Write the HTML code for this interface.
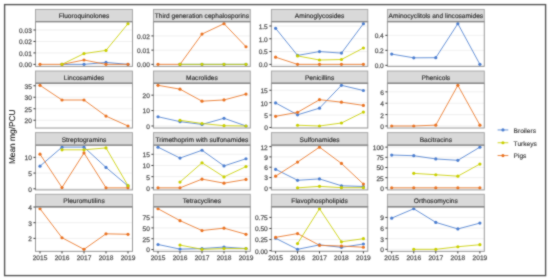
<!DOCTYPE html>
<html><head><meta charset="utf-8"><style>
html,body{margin:0;padding:0;background:#fff;}
body{width:550px;height:280px;overflow:hidden;position:relative;}
#wrap{position:absolute;left:0;top:0;width:550px;height:280px;will-change:transform;}
svg{position:absolute;left:0;top:0;font-family:"Liberation Sans",sans-serif;}
text{stroke-width:0.25px;paint-order:stroke;text-rendering:geometricPrecision;}
</style></head><body>
<div id="wrap"><svg width="550" height="280" viewBox="0 0 550 280">
<defs><filter id="soft" x="0" y="0" width="550" height="280" filterUnits="userSpaceOnUse" primitiveUnits="userSpaceOnUse" color-interpolation-filters="sRGB"><feConvolveMatrix order="3" kernelMatrix="0.035 0.09 0.035 0.09 0.5 0.09 0.035 0.09 0.035" divisor="1" edgeMode="duplicate" preserveAlpha="true"/></filter></defs>
<g filter="url(#soft)">
<rect x="0" y="0" width="550" height="280" fill="#fff"/>
<rect x="4.6" y="4.6" width="541" height="271" fill="none" stroke="#575757" stroke-width="1.4"/>
<rect x="35.5" y="21.65" width="97" height="44.75" fill="#fff"/>
<line x1="35.5" x2="132.5" y1="64.37" y2="64.37" stroke="#ebebeb" stroke-width="0.75"/>
<line x1="35.5" x2="132.5" y1="52.91" y2="52.91" stroke="#ebebeb" stroke-width="0.75"/>
<line x1="35.5" x2="132.5" y1="41.45" y2="41.45" stroke="#ebebeb" stroke-width="0.75"/>
<line x1="35.5" x2="132.5" y1="29.99" y2="29.99" stroke="#ebebeb" stroke-width="0.75"/>
<path d="M62 64.37 L84 64.37 L106 62.42 L128 64.37" fill="none" stroke="#4d7fd0" stroke-width="0.85" stroke-linejoin="round"/>
<path d="M40 64.37 L62 64.37 L84 60.01 L106 64.37 L128 64.37" fill="none" stroke="#ea7424" stroke-width="0.85" stroke-linejoin="round"/>
<path d="M62 64.37 L84 53.59 L106 50.39 L128 23.68" fill="none" stroke="#c9cf00" stroke-width="0.85" stroke-linejoin="round"/>
<circle cx="62" cy="64.37" r="1.6" fill="#4d7fd0"/>
<circle cx="84" cy="64.37" r="1.6" fill="#4d7fd0"/>
<circle cx="106" cy="62.42" r="1.6" fill="#4d7fd0"/>
<circle cx="128" cy="64.37" r="1.6" fill="#4d7fd0"/>
<circle cx="40" cy="64.37" r="1.6" fill="#ea7424"/>
<circle cx="62" cy="64.37" r="1.6" fill="#ea7424"/>
<circle cx="84" cy="60.01" r="1.6" fill="#ea7424"/>
<circle cx="106" cy="64.37" r="1.6" fill="#ea7424"/>
<circle cx="128" cy="64.37" r="1.6" fill="#ea7424"/>
<circle cx="62" cy="64.37" r="1.6" fill="#c9cf00"/>
<circle cx="84" cy="53.59" r="1.6" fill="#c9cf00"/>
<circle cx="106" cy="50.39" r="1.6" fill="#c9cf00"/>
<circle cx="128" cy="23.68" r="1.6" fill="#c9cf00"/>
<rect x="35.5" y="21.65" width="97" height="44.75" fill="none" stroke="#999999" stroke-width="1"/>
<rect x="35.5" y="9.4" width="97" height="12.25" fill="#d9d9d9" stroke="#a3a3a3" stroke-width="0.9"/>
<line x1="35.5" x2="132.5" y1="21.65" y2="21.65" stroke="#8a8a8a" stroke-width="1.4"/>
<text x="84" y="18.47" text-anchor="middle" fill="#2e2e2e" stroke="#2e2e2e" style="stroke-width:0.15px" font-size="6.6">Fluoroquinolones</text>
<line x1="33.45" x2="35.5" y1="64.37" y2="64.37" stroke="#3a3a3a" stroke-width="1"/>
<text x="31.9" y="67.27" text-anchor="end" fill="#555555" stroke="#555555" font-size="6.6">0.00</text>
<line x1="33.45" x2="35.5" y1="52.91" y2="52.91" stroke="#3a3a3a" stroke-width="1"/>
<text x="31.9" y="55.81" text-anchor="end" fill="#555555" stroke="#555555" font-size="6.6">0.01</text>
<line x1="33.45" x2="35.5" y1="41.45" y2="41.45" stroke="#3a3a3a" stroke-width="1"/>
<text x="31.9" y="44.35" text-anchor="end" fill="#555555" stroke="#555555" font-size="6.6">0.02</text>
<line x1="33.45" x2="35.5" y1="29.99" y2="29.99" stroke="#3a3a3a" stroke-width="1"/>
<text x="31.9" y="32.89" text-anchor="end" fill="#555555" stroke="#555555" font-size="6.6">0.03</text>
<rect x="153.45" y="21.65" width="96.85" height="44.75" fill="#fff"/>
<line x1="153.45" x2="250.3" y1="64.37" y2="64.37" stroke="#ebebeb" stroke-width="0.75"/>
<line x1="153.45" x2="250.3" y1="50.14" y2="50.14" stroke="#ebebeb" stroke-width="0.75"/>
<line x1="153.45" x2="250.3" y1="35.92" y2="35.92" stroke="#ebebeb" stroke-width="0.75"/>
<path d="M180 64.37 L202 64.37 L224 64.37 L246 64.37" fill="none" stroke="#4d7fd0" stroke-width="0.85" stroke-linejoin="round"/>
<path d="M158 64.37 L180 64.37 L202 34.07 L224 23.68 L246 46.73" fill="none" stroke="#ea7424" stroke-width="0.85" stroke-linejoin="round"/>
<path d="M180 64.37 L202 64.37 L224 64.37 L246 64.37" fill="none" stroke="#c9cf00" stroke-width="0.85" stroke-linejoin="round"/>
<circle cx="180" cy="64.37" r="1.6" fill="#4d7fd0"/>
<circle cx="202" cy="64.37" r="1.6" fill="#4d7fd0"/>
<circle cx="224" cy="64.37" r="1.6" fill="#4d7fd0"/>
<circle cx="246" cy="64.37" r="1.6" fill="#4d7fd0"/>
<circle cx="158" cy="64.37" r="1.6" fill="#ea7424"/>
<circle cx="180" cy="64.37" r="1.6" fill="#ea7424"/>
<circle cx="202" cy="34.07" r="1.6" fill="#ea7424"/>
<circle cx="224" cy="23.68" r="1.6" fill="#ea7424"/>
<circle cx="246" cy="46.73" r="1.6" fill="#ea7424"/>
<circle cx="180" cy="64.37" r="1.6" fill="#c9cf00"/>
<circle cx="202" cy="64.37" r="1.6" fill="#c9cf00"/>
<circle cx="224" cy="64.37" r="1.6" fill="#c9cf00"/>
<circle cx="246" cy="64.37" r="1.6" fill="#c9cf00"/>
<rect x="153.45" y="21.65" width="96.85" height="44.75" fill="none" stroke="#999999" stroke-width="1"/>
<rect x="153.45" y="9.4" width="96.85" height="12.25" fill="#d9d9d9" stroke="#a3a3a3" stroke-width="0.9"/>
<line x1="153.45" x2="250.3" y1="21.65" y2="21.65" stroke="#8a8a8a" stroke-width="1.4"/>
<text x="201.88" y="18.47" text-anchor="middle" fill="#2e2e2e" stroke="#2e2e2e" style="stroke-width:0.15px" font-size="6.6">Third generation cephalosporins</text>
<line x1="151.4" x2="153.45" y1="64.37" y2="64.37" stroke="#3a3a3a" stroke-width="1"/>
<text x="149.85" y="67.27" text-anchor="end" fill="#555555" stroke="#555555" font-size="6.6">0.00</text>
<line x1="151.4" x2="153.45" y1="50.14" y2="50.14" stroke="#3a3a3a" stroke-width="1"/>
<text x="149.85" y="53.04" text-anchor="end" fill="#555555" stroke="#555555" font-size="6.6">0.01</text>
<line x1="151.4" x2="153.45" y1="35.92" y2="35.92" stroke="#3a3a3a" stroke-width="1"/>
<text x="149.85" y="38.82" text-anchor="end" fill="#555555" stroke="#555555" font-size="6.6">0.02</text>
<rect x="271.4" y="21.65" width="96.4" height="44.75" fill="#fff"/>
<line x1="271.4" x2="367.8" y1="64.37" y2="64.37" stroke="#ebebeb" stroke-width="0.75"/>
<line x1="271.4" x2="367.8" y1="51.57" y2="51.57" stroke="#ebebeb" stroke-width="0.75"/>
<line x1="271.4" x2="367.8" y1="38.78" y2="38.78" stroke="#ebebeb" stroke-width="0.75"/>
<line x1="271.4" x2="367.8" y1="25.99" y2="25.99" stroke="#ebebeb" stroke-width="0.75"/>
<path d="M275.6 28.29 L297.55 55.41 L319.5 51.57 L341.45 53.11 L363.4 23.68" fill="none" stroke="#4d7fd0" stroke-width="0.85" stroke-linejoin="round"/>
<path d="M275.6 57.2 L297.55 64.37 L319.5 64.37 L341.45 64.37 L363.4 64.37" fill="none" stroke="#ea7424" stroke-width="0.85" stroke-linejoin="round"/>
<path d="M297.55 55.92 L319.5 60.02 L341.45 59.5 L363.4 47.99" fill="none" stroke="#c9cf00" stroke-width="0.85" stroke-linejoin="round"/>
<circle cx="275.6" cy="28.29" r="1.6" fill="#4d7fd0"/>
<circle cx="297.55" cy="55.41" r="1.6" fill="#4d7fd0"/>
<circle cx="319.5" cy="51.57" r="1.6" fill="#4d7fd0"/>
<circle cx="341.45" cy="53.11" r="1.6" fill="#4d7fd0"/>
<circle cx="363.4" cy="23.68" r="1.6" fill="#4d7fd0"/>
<circle cx="275.6" cy="57.2" r="1.6" fill="#ea7424"/>
<circle cx="297.55" cy="64.37" r="1.6" fill="#ea7424"/>
<circle cx="319.5" cy="64.37" r="1.6" fill="#ea7424"/>
<circle cx="341.45" cy="64.37" r="1.6" fill="#ea7424"/>
<circle cx="363.4" cy="64.37" r="1.6" fill="#ea7424"/>
<circle cx="297.55" cy="55.92" r="1.6" fill="#c9cf00"/>
<circle cx="319.5" cy="60.02" r="1.6" fill="#c9cf00"/>
<circle cx="341.45" cy="59.5" r="1.6" fill="#c9cf00"/>
<circle cx="363.4" cy="47.99" r="1.6" fill="#c9cf00"/>
<rect x="271.4" y="21.65" width="96.4" height="44.75" fill="none" stroke="#999999" stroke-width="1"/>
<rect x="271.4" y="9.4" width="96.4" height="12.25" fill="#d9d9d9" stroke="#a3a3a3" stroke-width="0.9"/>
<line x1="271.4" x2="367.8" y1="21.65" y2="21.65" stroke="#8a8a8a" stroke-width="1.4"/>
<text x="319.6" y="18.47" text-anchor="middle" fill="#2e2e2e" stroke="#2e2e2e" style="stroke-width:0.15px" font-size="6.6">Aminoglycosides</text>
<line x1="269.35" x2="271.4" y1="64.37" y2="64.37" stroke="#3a3a3a" stroke-width="1"/>
<text x="267.8" y="67.27" text-anchor="end" fill="#555555" stroke="#555555" font-size="6.6">0.0</text>
<line x1="269.35" x2="271.4" y1="51.57" y2="51.57" stroke="#3a3a3a" stroke-width="1"/>
<text x="267.8" y="54.47" text-anchor="end" fill="#555555" stroke="#555555" font-size="6.6">0.5</text>
<line x1="269.35" x2="271.4" y1="38.78" y2="38.78" stroke="#3a3a3a" stroke-width="1"/>
<text x="267.8" y="41.68" text-anchor="end" fill="#555555" stroke="#555555" font-size="6.6">1.0</text>
<line x1="269.35" x2="271.4" y1="25.99" y2="25.99" stroke="#3a3a3a" stroke-width="1"/>
<text x="267.8" y="28.89" text-anchor="end" fill="#555555" stroke="#555555" font-size="6.6">1.5</text>
<rect x="387.4" y="21.65" width="96.9" height="44.75" fill="#fff"/>
<line x1="387.4" x2="484.3" y1="65.34" y2="65.34" stroke="#ebebeb" stroke-width="0.75"/>
<line x1="387.4" x2="484.3" y1="50.33" y2="50.33" stroke="#ebebeb" stroke-width="0.75"/>
<line x1="387.4" x2="484.3" y1="35.32" y2="35.32" stroke="#ebebeb" stroke-width="0.75"/>
<path d="M391.7 54.08 L413.75 57.84 L435.8 57.69 L457.85 23.68 L479.9 64.37" fill="none" stroke="#4d7fd0" stroke-width="0.85" stroke-linejoin="round"/>
<circle cx="391.7" cy="54.08" r="1.6" fill="#4d7fd0"/>
<circle cx="413.75" cy="57.84" r="1.6" fill="#4d7fd0"/>
<circle cx="435.8" cy="57.69" r="1.6" fill="#4d7fd0"/>
<circle cx="457.85" cy="23.68" r="1.6" fill="#4d7fd0"/>
<circle cx="479.9" cy="64.37" r="1.6" fill="#4d7fd0"/>
<rect x="387.4" y="21.65" width="96.9" height="44.75" fill="none" stroke="#999999" stroke-width="1"/>
<rect x="387.4" y="9.4" width="96.9" height="12.25" fill="#d9d9d9" stroke="#a3a3a3" stroke-width="0.9"/>
<line x1="387.4" x2="484.3" y1="21.65" y2="21.65" stroke="#8a8a8a" stroke-width="1.4"/>
<text x="435.85" y="18.47" text-anchor="middle" fill="#2e2e2e" stroke="#2e2e2e" style="stroke-width:0.15px" font-size="6.6">Aminocyclitols and lincosamides</text>
<line x1="385.35" x2="387.4" y1="65.34" y2="65.34" stroke="#3a3a3a" stroke-width="1"/>
<text x="383.8" y="68.24" text-anchor="end" fill="#555555" stroke="#555555" font-size="6.6">0.0</text>
<line x1="385.35" x2="387.4" y1="50.33" y2="50.33" stroke="#3a3a3a" stroke-width="1"/>
<text x="383.8" y="53.23" text-anchor="end" fill="#555555" stroke="#555555" font-size="6.6">0.2</text>
<line x1="385.35" x2="387.4" y1="35.32" y2="35.32" stroke="#3a3a3a" stroke-width="1"/>
<text x="383.8" y="38.22" text-anchor="end" fill="#555555" stroke="#555555" font-size="6.6">0.4</text>
<rect x="35.5" y="83.27" width="97" height="44.75" fill="#fff"/>
<line x1="35.5" x2="132.5" y1="120.24" y2="120.24" stroke="#ebebeb" stroke-width="0.75"/>
<line x1="35.5" x2="132.5" y1="108.75" y2="108.75" stroke="#ebebeb" stroke-width="0.75"/>
<line x1="35.5" x2="132.5" y1="97.26" y2="97.26" stroke="#ebebeb" stroke-width="0.75"/>
<line x1="35.5" x2="132.5" y1="85.76" y2="85.76" stroke="#ebebeb" stroke-width="0.75"/>
<path d="M40 85.3 L62 100.01 L84 100.01 L106 116.1 L128 125.99" fill="none" stroke="#ea7424" stroke-width="0.85" stroke-linejoin="round"/>
<circle cx="40" cy="85.3" r="1.6" fill="#ea7424"/>
<circle cx="62" cy="100.01" r="1.6" fill="#ea7424"/>
<circle cx="84" cy="100.01" r="1.6" fill="#ea7424"/>
<circle cx="106" cy="116.1" r="1.6" fill="#ea7424"/>
<circle cx="128" cy="125.99" r="1.6" fill="#ea7424"/>
<rect x="35.5" y="83.27" width="97" height="44.75" fill="none" stroke="#999999" stroke-width="1"/>
<rect x="35.5" y="71.02" width="97" height="12.25" fill="#d9d9d9" stroke="#a3a3a3" stroke-width="0.9"/>
<line x1="35.5" x2="132.5" y1="83.27" y2="83.27" stroke="#8a8a8a" stroke-width="1.4"/>
<text x="84" y="80.09" text-anchor="middle" fill="#2e2e2e" stroke="#2e2e2e" style="stroke-width:0.15px" font-size="6.6">Lincosamides</text>
<line x1="33.45" x2="35.5" y1="120.24" y2="120.24" stroke="#3a3a3a" stroke-width="1"/>
<text x="31.9" y="123.14" text-anchor="end" fill="#555555" stroke="#555555" font-size="6.6">20</text>
<line x1="33.45" x2="35.5" y1="108.75" y2="108.75" stroke="#3a3a3a" stroke-width="1"/>
<text x="31.9" y="111.65" text-anchor="end" fill="#555555" stroke="#555555" font-size="6.6">25</text>
<line x1="33.45" x2="35.5" y1="97.26" y2="97.26" stroke="#3a3a3a" stroke-width="1"/>
<text x="31.9" y="100.16" text-anchor="end" fill="#555555" stroke="#555555" font-size="6.6">30</text>
<line x1="33.45" x2="35.5" y1="85.76" y2="85.76" stroke="#3a3a3a" stroke-width="1"/>
<text x="31.9" y="88.66" text-anchor="end" fill="#555555" stroke="#555555" font-size="6.6">35</text>
<rect x="153.45" y="83.27" width="96.85" height="44.75" fill="#fff"/>
<line x1="153.45" x2="250.3" y1="125.99" y2="125.99" stroke="#ebebeb" stroke-width="0.75"/>
<line x1="153.45" x2="250.3" y1="110.58" y2="110.58" stroke="#ebebeb" stroke-width="0.75"/>
<line x1="153.45" x2="250.3" y1="95.17" y2="95.17" stroke="#ebebeb" stroke-width="0.75"/>
<path d="M158 116.74 L180 121.67 L202 124.44 L224 118.28 L246 125.99" fill="none" stroke="#4d7fd0" stroke-width="0.85" stroke-linejoin="round"/>
<path d="M158 85.3 L180 89.16 L202 101.18 L224 99.94 L246 94.09" fill="none" stroke="#ea7424" stroke-width="0.85" stroke-linejoin="round"/>
<path d="M180 120.28 L202 123.52 L224 125.68 L246 125.99" fill="none" stroke="#c9cf00" stroke-width="0.85" stroke-linejoin="round"/>
<circle cx="158" cy="116.74" r="1.6" fill="#4d7fd0"/>
<circle cx="180" cy="121.67" r="1.6" fill="#4d7fd0"/>
<circle cx="202" cy="124.44" r="1.6" fill="#4d7fd0"/>
<circle cx="224" cy="118.28" r="1.6" fill="#4d7fd0"/>
<circle cx="246" cy="125.99" r="1.6" fill="#4d7fd0"/>
<circle cx="158" cy="85.3" r="1.6" fill="#ea7424"/>
<circle cx="180" cy="89.16" r="1.6" fill="#ea7424"/>
<circle cx="202" cy="101.18" r="1.6" fill="#ea7424"/>
<circle cx="224" cy="99.94" r="1.6" fill="#ea7424"/>
<circle cx="246" cy="94.09" r="1.6" fill="#ea7424"/>
<circle cx="180" cy="120.28" r="1.6" fill="#c9cf00"/>
<circle cx="202" cy="123.52" r="1.6" fill="#c9cf00"/>
<circle cx="224" cy="125.68" r="1.6" fill="#c9cf00"/>
<circle cx="246" cy="125.99" r="1.6" fill="#c9cf00"/>
<rect x="153.45" y="83.27" width="96.85" height="44.75" fill="none" stroke="#999999" stroke-width="1"/>
<rect x="153.45" y="71.02" width="96.85" height="12.25" fill="#d9d9d9" stroke="#a3a3a3" stroke-width="0.9"/>
<line x1="153.45" x2="250.3" y1="83.27" y2="83.27" stroke="#8a8a8a" stroke-width="1.4"/>
<text x="201.88" y="80.09" text-anchor="middle" fill="#2e2e2e" stroke="#2e2e2e" style="stroke-width:0.15px" font-size="6.6">Macrolides</text>
<line x1="151.4" x2="153.45" y1="125.99" y2="125.99" stroke="#3a3a3a" stroke-width="1"/>
<text x="149.85" y="128.89" text-anchor="end" fill="#555555" stroke="#555555" font-size="6.6">0</text>
<line x1="151.4" x2="153.45" y1="110.58" y2="110.58" stroke="#3a3a3a" stroke-width="1"/>
<text x="149.85" y="113.48" text-anchor="end" fill="#555555" stroke="#555555" font-size="6.6">10</text>
<line x1="151.4" x2="153.45" y1="95.17" y2="95.17" stroke="#3a3a3a" stroke-width="1"/>
<text x="149.85" y="98.07" text-anchor="end" fill="#555555" stroke="#555555" font-size="6.6">20</text>
<rect x="271.4" y="83.27" width="96.4" height="44.75" fill="#fff"/>
<line x1="271.4" x2="367.8" y1="127.47" y2="127.47" stroke="#ebebeb" stroke-width="0.75"/>
<line x1="271.4" x2="367.8" y1="115.07" y2="115.07" stroke="#ebebeb" stroke-width="0.75"/>
<line x1="271.4" x2="367.8" y1="102.67" y2="102.67" stroke="#ebebeb" stroke-width="0.75"/>
<line x1="271.4" x2="367.8" y1="90.27" y2="90.27" stroke="#ebebeb" stroke-width="0.75"/>
<path d="M275.6 102.92 L297.55 114.82 L319.5 108.13 L341.45 85.3 L363.4 90.51" fill="none" stroke="#4d7fd0" stroke-width="0.85" stroke-linejoin="round"/>
<path d="M275.6 116.31 L297.55 112.34 L319.5 99.69 L341.45 102.17 L363.4 105.4" fill="none" stroke="#ea7424" stroke-width="0.85" stroke-linejoin="round"/>
<path d="M297.55 125.24 L319.5 125.99 L341.45 123.01 L363.4 112.09" fill="none" stroke="#c9cf00" stroke-width="0.85" stroke-linejoin="round"/>
<circle cx="275.6" cy="102.92" r="1.6" fill="#4d7fd0"/>
<circle cx="297.55" cy="114.82" r="1.6" fill="#4d7fd0"/>
<circle cx="319.5" cy="108.13" r="1.6" fill="#4d7fd0"/>
<circle cx="341.45" cy="85.3" r="1.6" fill="#4d7fd0"/>
<circle cx="363.4" cy="90.51" r="1.6" fill="#4d7fd0"/>
<circle cx="275.6" cy="116.31" r="1.6" fill="#ea7424"/>
<circle cx="297.55" cy="112.34" r="1.6" fill="#ea7424"/>
<circle cx="319.5" cy="99.69" r="1.6" fill="#ea7424"/>
<circle cx="341.45" cy="102.17" r="1.6" fill="#ea7424"/>
<circle cx="363.4" cy="105.4" r="1.6" fill="#ea7424"/>
<circle cx="297.55" cy="125.24" r="1.6" fill="#c9cf00"/>
<circle cx="319.5" cy="125.99" r="1.6" fill="#c9cf00"/>
<circle cx="341.45" cy="123.01" r="1.6" fill="#c9cf00"/>
<circle cx="363.4" cy="112.09" r="1.6" fill="#c9cf00"/>
<rect x="271.4" y="83.27" width="96.4" height="44.75" fill="none" stroke="#999999" stroke-width="1"/>
<rect x="271.4" y="71.02" width="96.4" height="12.25" fill="#d9d9d9" stroke="#a3a3a3" stroke-width="0.9"/>
<line x1="271.4" x2="367.8" y1="83.27" y2="83.27" stroke="#8a8a8a" stroke-width="1.4"/>
<text x="319.6" y="80.09" text-anchor="middle" fill="#2e2e2e" stroke="#2e2e2e" style="stroke-width:0.15px" font-size="6.6">Penicillins</text>
<line x1="269.35" x2="271.4" y1="127.47" y2="127.47" stroke="#3a3a3a" stroke-width="1"/>
<text x="267.8" y="130.37" text-anchor="end" fill="#555555" stroke="#555555" font-size="6.6">0</text>
<line x1="269.35" x2="271.4" y1="115.07" y2="115.07" stroke="#3a3a3a" stroke-width="1"/>
<text x="267.8" y="117.97" text-anchor="end" fill="#555555" stroke="#555555" font-size="6.6">5</text>
<line x1="269.35" x2="271.4" y1="102.67" y2="102.67" stroke="#3a3a3a" stroke-width="1"/>
<text x="267.8" y="105.57" text-anchor="end" fill="#555555" stroke="#555555" font-size="6.6">10</text>
<line x1="269.35" x2="271.4" y1="90.27" y2="90.27" stroke="#3a3a3a" stroke-width="1"/>
<text x="267.8" y="93.17" text-anchor="end" fill="#555555" stroke="#555555" font-size="6.6">15</text>
<rect x="387.4" y="83.27" width="96.9" height="44.75" fill="#fff"/>
<line x1="387.4" x2="484.3" y1="125.99" y2="125.99" stroke="#ebebeb" stroke-width="0.75"/>
<line x1="387.4" x2="484.3" y1="114.61" y2="114.61" stroke="#ebebeb" stroke-width="0.75"/>
<line x1="387.4" x2="484.3" y1="103.23" y2="103.23" stroke="#ebebeb" stroke-width="0.75"/>
<line x1="387.4" x2="484.3" y1="91.85" y2="91.85" stroke="#ebebeb" stroke-width="0.75"/>
<path d="M391.7 125.99 L413.75 125.99 L435.8 125.13 L457.85 85.3 L479.9 125.13" fill="none" stroke="#ea7424" stroke-width="0.85" stroke-linejoin="round"/>
<circle cx="391.7" cy="125.99" r="1.6" fill="#ea7424"/>
<circle cx="413.75" cy="125.99" r="1.6" fill="#ea7424"/>
<circle cx="435.8" cy="125.13" r="1.6" fill="#ea7424"/>
<circle cx="457.85" cy="85.3" r="1.6" fill="#ea7424"/>
<circle cx="479.9" cy="125.13" r="1.6" fill="#ea7424"/>
<rect x="387.4" y="83.27" width="96.9" height="44.75" fill="none" stroke="#999999" stroke-width="1"/>
<rect x="387.4" y="71.02" width="96.9" height="12.25" fill="#d9d9d9" stroke="#a3a3a3" stroke-width="0.9"/>
<line x1="387.4" x2="484.3" y1="83.27" y2="83.27" stroke="#8a8a8a" stroke-width="1.4"/>
<text x="435.85" y="80.09" text-anchor="middle" fill="#2e2e2e" stroke="#2e2e2e" style="stroke-width:0.15px" font-size="6.6">Phenicols</text>
<line x1="385.35" x2="387.4" y1="125.99" y2="125.99" stroke="#3a3a3a" stroke-width="1"/>
<text x="383.8" y="128.89" text-anchor="end" fill="#555555" stroke="#555555" font-size="6.6">0</text>
<line x1="385.35" x2="387.4" y1="114.61" y2="114.61" stroke="#3a3a3a" stroke-width="1"/>
<text x="383.8" y="117.51" text-anchor="end" fill="#555555" stroke="#555555" font-size="6.6">2</text>
<line x1="385.35" x2="387.4" y1="103.23" y2="103.23" stroke="#3a3a3a" stroke-width="1"/>
<text x="383.8" y="106.13" text-anchor="end" fill="#555555" stroke="#555555" font-size="6.6">4</text>
<line x1="385.35" x2="387.4" y1="91.85" y2="91.85" stroke="#3a3a3a" stroke-width="1"/>
<text x="383.8" y="94.75" text-anchor="end" fill="#555555" stroke="#555555" font-size="6.6">6</text>
<rect x="35.5" y="145.09" width="97" height="44.8" fill="#fff"/>
<line x1="35.5" x2="132.5" y1="188.8" y2="188.8" stroke="#ebebeb" stroke-width="0.75"/>
<line x1="35.5" x2="132.5" y1="173.07" y2="173.07" stroke="#ebebeb" stroke-width="0.75"/>
<line x1="35.5" x2="132.5" y1="157.35" y2="157.35" stroke="#ebebeb" stroke-width="0.75"/>
<path d="M40 166.15 L62 147.13 L84 147.13 L106 167.41 L128 185.97" fill="none" stroke="#4d7fd0" stroke-width="0.85" stroke-linejoin="round"/>
<path d="M40 154.2 L62 187.54 L84 152.94 L106 187.85 L128 187.85" fill="none" stroke="#ea7424" stroke-width="0.85" stroke-linejoin="round"/>
<path d="M62 149.8 L84 149.8 L106 147.91 L128 185.65" fill="none" stroke="#c9cf00" stroke-width="0.85" stroke-linejoin="round"/>
<circle cx="40" cy="166.15" r="1.6" fill="#4d7fd0"/>
<circle cx="62" cy="147.13" r="1.6" fill="#4d7fd0"/>
<circle cx="84" cy="147.13" r="1.6" fill="#4d7fd0"/>
<circle cx="106" cy="167.41" r="1.6" fill="#4d7fd0"/>
<circle cx="128" cy="185.97" r="1.6" fill="#4d7fd0"/>
<circle cx="40" cy="154.2" r="1.6" fill="#ea7424"/>
<circle cx="62" cy="187.54" r="1.6" fill="#ea7424"/>
<circle cx="84" cy="152.94" r="1.6" fill="#ea7424"/>
<circle cx="106" cy="187.85" r="1.6" fill="#ea7424"/>
<circle cx="128" cy="187.85" r="1.6" fill="#ea7424"/>
<circle cx="62" cy="149.8" r="1.6" fill="#c9cf00"/>
<circle cx="84" cy="149.8" r="1.6" fill="#c9cf00"/>
<circle cx="106" cy="147.91" r="1.6" fill="#c9cf00"/>
<circle cx="128" cy="185.65" r="1.6" fill="#c9cf00"/>
<rect x="35.5" y="145.09" width="97" height="44.8" fill="none" stroke="#999999" stroke-width="1"/>
<rect x="35.5" y="132.64" width="97" height="12.45" fill="#d9d9d9" stroke="#a3a3a3" stroke-width="0.9"/>
<line x1="35.5" x2="132.5" y1="145.09" y2="145.09" stroke="#8a8a8a" stroke-width="1.4"/>
<text x="84" y="141.81" text-anchor="middle" fill="#2e2e2e" stroke="#2e2e2e" style="stroke-width:0.15px" font-size="6.6">Streptogramins</text>
<line x1="33.45" x2="35.5" y1="188.8" y2="188.8" stroke="#3a3a3a" stroke-width="1"/>
<text x="31.9" y="191.7" text-anchor="end" fill="#555555" stroke="#555555" font-size="6.6">0</text>
<line x1="33.45" x2="35.5" y1="173.07" y2="173.07" stroke="#3a3a3a" stroke-width="1"/>
<text x="31.9" y="175.97" text-anchor="end" fill="#555555" stroke="#555555" font-size="6.6">5</text>
<line x1="33.45" x2="35.5" y1="157.35" y2="157.35" stroke="#3a3a3a" stroke-width="1"/>
<text x="31.9" y="160.25" text-anchor="end" fill="#555555" stroke="#555555" font-size="6.6">10</text>
<rect x="153.45" y="145.09" width="96.85" height="44.8" fill="#fff"/>
<line x1="153.45" x2="250.3" y1="187.85" y2="187.85" stroke="#ebebeb" stroke-width="0.75"/>
<line x1="153.45" x2="250.3" y1="176.66" y2="176.66" stroke="#ebebeb" stroke-width="0.75"/>
<line x1="153.45" x2="250.3" y1="165.48" y2="165.48" stroke="#ebebeb" stroke-width="0.75"/>
<line x1="153.45" x2="250.3" y1="154.29" y2="154.29" stroke="#ebebeb" stroke-width="0.75"/>
<path d="M158 147.13 L180 158.09 L202 150.26 L224 165.92 L246 158.76" fill="none" stroke="#4d7fd0" stroke-width="0.85" stroke-linejoin="round"/>
<path d="M158 187.85 L180 187.85 L202 179.13 L224 183.15 L246 179.46" fill="none" stroke="#ea7424" stroke-width="0.85" stroke-linejoin="round"/>
<path d="M180 182.04 L202 162.79 L224 176.89 L246 166.59" fill="none" stroke="#c9cf00" stroke-width="0.85" stroke-linejoin="round"/>
<circle cx="158" cy="147.13" r="1.6" fill="#4d7fd0"/>
<circle cx="180" cy="158.09" r="1.6" fill="#4d7fd0"/>
<circle cx="202" cy="150.26" r="1.6" fill="#4d7fd0"/>
<circle cx="224" cy="165.92" r="1.6" fill="#4d7fd0"/>
<circle cx="246" cy="158.76" r="1.6" fill="#4d7fd0"/>
<circle cx="158" cy="187.85" r="1.6" fill="#ea7424"/>
<circle cx="180" cy="187.85" r="1.6" fill="#ea7424"/>
<circle cx="202" cy="179.13" r="1.6" fill="#ea7424"/>
<circle cx="224" cy="183.15" r="1.6" fill="#ea7424"/>
<circle cx="246" cy="179.46" r="1.6" fill="#ea7424"/>
<circle cx="180" cy="182.04" r="1.6" fill="#c9cf00"/>
<circle cx="202" cy="162.79" r="1.6" fill="#c9cf00"/>
<circle cx="224" cy="176.89" r="1.6" fill="#c9cf00"/>
<circle cx="246" cy="166.59" r="1.6" fill="#c9cf00"/>
<rect x="153.45" y="145.09" width="96.85" height="44.8" fill="none" stroke="#999999" stroke-width="1"/>
<rect x="153.45" y="132.64" width="96.85" height="12.45" fill="#d9d9d9" stroke="#a3a3a3" stroke-width="0.9"/>
<line x1="153.45" x2="250.3" y1="145.09" y2="145.09" stroke="#8a8a8a" stroke-width="1.4"/>
<text x="201.88" y="141.81" text-anchor="middle" fill="#2e2e2e" stroke="#2e2e2e" style="stroke-width:0.15px" font-size="6.6">Trimethoprim with sulfonamides</text>
<line x1="151.4" x2="153.45" y1="187.85" y2="187.85" stroke="#3a3a3a" stroke-width="1"/>
<text x="149.85" y="190.75" text-anchor="end" fill="#555555" stroke="#555555" font-size="6.6">0</text>
<line x1="151.4" x2="153.45" y1="176.66" y2="176.66" stroke="#3a3a3a" stroke-width="1"/>
<text x="149.85" y="179.56" text-anchor="end" fill="#555555" stroke="#555555" font-size="6.6">5</text>
<line x1="151.4" x2="153.45" y1="165.48" y2="165.48" stroke="#3a3a3a" stroke-width="1"/>
<text x="149.85" y="168.38" text-anchor="end" fill="#555555" stroke="#555555" font-size="6.6">10</text>
<line x1="151.4" x2="153.45" y1="154.29" y2="154.29" stroke="#3a3a3a" stroke-width="1"/>
<text x="149.85" y="157.19" text-anchor="end" fill="#555555" stroke="#555555" font-size="6.6">15</text>
<rect x="271.4" y="145.09" width="96.4" height="44.8" fill="#fff"/>
<line x1="271.4" x2="367.8" y1="187.85" y2="187.85" stroke="#ebebeb" stroke-width="0.75"/>
<line x1="271.4" x2="367.8" y1="177.54" y2="177.54" stroke="#ebebeb" stroke-width="0.75"/>
<line x1="271.4" x2="367.8" y1="167.23" y2="167.23" stroke="#ebebeb" stroke-width="0.75"/>
<line x1="271.4" x2="367.8" y1="156.92" y2="156.92" stroke="#ebebeb" stroke-width="0.75"/>
<line x1="271.4" x2="367.8" y1="146.61" y2="146.61" stroke="#ebebeb" stroke-width="0.75"/>
<path d="M275.6 169.29 L297.55 180.29 L319.5 178.92 L341.45 185.79 L363.4 186.48" fill="none" stroke="#4d7fd0" stroke-width="0.85" stroke-linejoin="round"/>
<path d="M275.6 176.17 L297.55 162.08 L319.5 147.13 L341.45 163.45 L363.4 184.07" fill="none" stroke="#ea7424" stroke-width="0.85" stroke-linejoin="round"/>
<path d="M297.55 187.85 L319.5 186.31 L341.45 187.68 L363.4 187.68" fill="none" stroke="#c9cf00" stroke-width="0.85" stroke-linejoin="round"/>
<circle cx="275.6" cy="169.29" r="1.6" fill="#4d7fd0"/>
<circle cx="297.55" cy="180.29" r="1.6" fill="#4d7fd0"/>
<circle cx="319.5" cy="178.92" r="1.6" fill="#4d7fd0"/>
<circle cx="341.45" cy="185.79" r="1.6" fill="#4d7fd0"/>
<circle cx="363.4" cy="186.48" r="1.6" fill="#4d7fd0"/>
<circle cx="275.6" cy="176.17" r="1.6" fill="#ea7424"/>
<circle cx="297.55" cy="162.08" r="1.6" fill="#ea7424"/>
<circle cx="319.5" cy="147.13" r="1.6" fill="#ea7424"/>
<circle cx="341.45" cy="163.45" r="1.6" fill="#ea7424"/>
<circle cx="363.4" cy="184.07" r="1.6" fill="#ea7424"/>
<circle cx="297.55" cy="187.85" r="1.6" fill="#c9cf00"/>
<circle cx="319.5" cy="186.31" r="1.6" fill="#c9cf00"/>
<circle cx="341.45" cy="187.68" r="1.6" fill="#c9cf00"/>
<circle cx="363.4" cy="187.68" r="1.6" fill="#c9cf00"/>
<rect x="271.4" y="145.09" width="96.4" height="44.8" fill="none" stroke="#999999" stroke-width="1"/>
<rect x="271.4" y="132.64" width="96.4" height="12.45" fill="#d9d9d9" stroke="#a3a3a3" stroke-width="0.9"/>
<line x1="271.4" x2="367.8" y1="145.09" y2="145.09" stroke="#8a8a8a" stroke-width="1.4"/>
<text x="319.6" y="141.81" text-anchor="middle" fill="#2e2e2e" stroke="#2e2e2e" style="stroke-width:0.15px" font-size="6.6">Sulfonamides</text>
<line x1="269.35" x2="271.4" y1="187.85" y2="187.85" stroke="#3a3a3a" stroke-width="1"/>
<text x="267.8" y="190.75" text-anchor="end" fill="#555555" stroke="#555555" font-size="6.6">0</text>
<line x1="269.35" x2="271.4" y1="177.54" y2="177.54" stroke="#3a3a3a" stroke-width="1"/>
<text x="267.8" y="180.44" text-anchor="end" fill="#555555" stroke="#555555" font-size="6.6">3</text>
<line x1="269.35" x2="271.4" y1="167.23" y2="167.23" stroke="#3a3a3a" stroke-width="1"/>
<text x="267.8" y="170.13" text-anchor="end" fill="#555555" stroke="#555555" font-size="6.6">6</text>
<line x1="269.35" x2="271.4" y1="156.92" y2="156.92" stroke="#3a3a3a" stroke-width="1"/>
<text x="267.8" y="159.82" text-anchor="end" fill="#555555" stroke="#555555" font-size="6.6">9</text>
<line x1="269.35" x2="271.4" y1="146.61" y2="146.61" stroke="#3a3a3a" stroke-width="1"/>
<text x="267.8" y="149.51" text-anchor="end" fill="#555555" stroke="#555555" font-size="6.6">12</text>
<rect x="387.4" y="145.09" width="96.9" height="44.8" fill="#fff"/>
<line x1="387.4" x2="484.3" y1="187.85" y2="187.85" stroke="#ebebeb" stroke-width="0.75"/>
<line x1="387.4" x2="484.3" y1="177.67" y2="177.67" stroke="#ebebeb" stroke-width="0.75"/>
<line x1="387.4" x2="484.3" y1="167.49" y2="167.49" stroke="#ebebeb" stroke-width="0.75"/>
<line x1="387.4" x2="484.3" y1="157.31" y2="157.31" stroke="#ebebeb" stroke-width="0.75"/>
<line x1="387.4" x2="484.3" y1="147.13" y2="147.13" stroke="#ebebeb" stroke-width="0.75"/>
<path d="M391.7 155.03 L413.75 155.72 L435.8 158.94 L457.85 160.32 L479.9 147.13" fill="none" stroke="#4d7fd0" stroke-width="0.85" stroke-linejoin="round"/>
<path d="M391.7 187.85 L413.75 187.85 L435.8 187.85 L457.85 187.85 L479.9 187.85" fill="none" stroke="#ea7424" stroke-width="0.85" stroke-linejoin="round"/>
<path d="M413.75 173.35 L435.8 174.74 L457.85 176.16 L479.9 164.03" fill="none" stroke="#c9cf00" stroke-width="0.85" stroke-linejoin="round"/>
<circle cx="391.7" cy="155.03" r="1.6" fill="#4d7fd0"/>
<circle cx="413.75" cy="155.72" r="1.6" fill="#4d7fd0"/>
<circle cx="435.8" cy="158.94" r="1.6" fill="#4d7fd0"/>
<circle cx="457.85" cy="160.32" r="1.6" fill="#4d7fd0"/>
<circle cx="479.9" cy="147.13" r="1.6" fill="#4d7fd0"/>
<circle cx="391.7" cy="187.85" r="1.6" fill="#ea7424"/>
<circle cx="413.75" cy="187.85" r="1.6" fill="#ea7424"/>
<circle cx="435.8" cy="187.85" r="1.6" fill="#ea7424"/>
<circle cx="457.85" cy="187.85" r="1.6" fill="#ea7424"/>
<circle cx="479.9" cy="187.85" r="1.6" fill="#ea7424"/>
<circle cx="413.75" cy="173.35" r="1.6" fill="#c9cf00"/>
<circle cx="435.8" cy="174.74" r="1.6" fill="#c9cf00"/>
<circle cx="457.85" cy="176.16" r="1.6" fill="#c9cf00"/>
<circle cx="479.9" cy="164.03" r="1.6" fill="#c9cf00"/>
<rect x="387.4" y="145.09" width="96.9" height="44.8" fill="none" stroke="#999999" stroke-width="1"/>
<rect x="387.4" y="132.64" width="96.9" height="12.45" fill="#d9d9d9" stroke="#a3a3a3" stroke-width="0.9"/>
<line x1="387.4" x2="484.3" y1="145.09" y2="145.09" stroke="#8a8a8a" stroke-width="1.4"/>
<text x="435.85" y="141.81" text-anchor="middle" fill="#2e2e2e" stroke="#2e2e2e" style="stroke-width:0.15px" font-size="6.6">Bacitracins</text>
<line x1="385.35" x2="387.4" y1="187.85" y2="187.85" stroke="#3a3a3a" stroke-width="1"/>
<text x="383.8" y="190.75" text-anchor="end" fill="#555555" stroke="#555555" font-size="6.6">0</text>
<line x1="385.35" x2="387.4" y1="177.67" y2="177.67" stroke="#3a3a3a" stroke-width="1"/>
<text x="383.8" y="180.57" text-anchor="end" fill="#555555" stroke="#555555" font-size="6.6">25</text>
<line x1="385.35" x2="387.4" y1="167.49" y2="167.49" stroke="#3a3a3a" stroke-width="1"/>
<text x="383.8" y="170.39" text-anchor="end" fill="#555555" stroke="#555555" font-size="6.6">50</text>
<line x1="385.35" x2="387.4" y1="157.31" y2="157.31" stroke="#3a3a3a" stroke-width="1"/>
<text x="383.8" y="160.21" text-anchor="end" fill="#555555" stroke="#555555" font-size="6.6">75</text>
<line x1="385.35" x2="387.4" y1="147.13" y2="147.13" stroke="#3a3a3a" stroke-width="1"/>
<text x="383.8" y="150.03" text-anchor="end" fill="#555555" stroke="#555555" font-size="6.6">100</text>
<rect x="35.5" y="206.71" width="97" height="44.65" fill="#fff"/>
<line x1="35.5" x2="132.5" y1="238.36" y2="238.36" stroke="#ebebeb" stroke-width="0.75"/>
<line x1="35.5" x2="132.5" y1="222.69" y2="222.69" stroke="#ebebeb" stroke-width="0.75"/>
<line x1="35.5" x2="132.5" y1="207.02" y2="207.02" stroke="#ebebeb" stroke-width="0.75"/>
<path d="M40 208.74 L62 237.73 L84 249.33 L106 233.82 L128 234.29" fill="none" stroke="#ea7424" stroke-width="0.85" stroke-linejoin="round"/>
<circle cx="40" cy="208.74" r="1.6" fill="#ea7424"/>
<circle cx="62" cy="237.73" r="1.6" fill="#ea7424"/>
<circle cx="84" cy="249.33" r="1.6" fill="#ea7424"/>
<circle cx="106" cy="233.82" r="1.6" fill="#ea7424"/>
<circle cx="128" cy="234.29" r="1.6" fill="#ea7424"/>
<rect x="35.5" y="206.71" width="97" height="44.65" fill="none" stroke="#999999" stroke-width="1"/>
<rect x="35.5" y="194.26" width="97" height="12.45" fill="#d9d9d9" stroke="#a3a3a3" stroke-width="0.9"/>
<line x1="35.5" x2="132.5" y1="206.71" y2="206.71" stroke="#8a8a8a" stroke-width="1.4"/>
<text x="84" y="203.43" text-anchor="middle" fill="#2e2e2e" stroke="#2e2e2e" style="stroke-width:0.15px" font-size="6.6">Pleuromutilins</text>
<line x1="33.45" x2="35.5" y1="238.36" y2="238.36" stroke="#3a3a3a" stroke-width="1"/>
<text x="31.9" y="241.26" text-anchor="end" fill="#555555" stroke="#555555" font-size="6.6">2</text>
<line x1="33.45" x2="35.5" y1="222.69" y2="222.69" stroke="#3a3a3a" stroke-width="1"/>
<text x="31.9" y="225.59" text-anchor="end" fill="#555555" stroke="#555555" font-size="6.6">3</text>
<line x1="33.45" x2="35.5" y1="207.02" y2="207.02" stroke="#3a3a3a" stroke-width="1"/>
<text x="31.9" y="209.92" text-anchor="end" fill="#555555" stroke="#555555" font-size="6.6">4</text>
<line x1="40" x2="40" y1="251.36" y2="253.41" stroke="#3a3a3a" stroke-width="1"/>
<text x="40" y="260.36" text-anchor="middle" fill="#555555" stroke="#555555" font-size="6.6">2015</text>
<line x1="62" x2="62" y1="251.36" y2="253.41" stroke="#3a3a3a" stroke-width="1"/>
<text x="62" y="260.36" text-anchor="middle" fill="#555555" stroke="#555555" font-size="6.6">2016</text>
<line x1="84" x2="84" y1="251.36" y2="253.41" stroke="#3a3a3a" stroke-width="1"/>
<text x="84" y="260.36" text-anchor="middle" fill="#555555" stroke="#555555" font-size="6.6">2017</text>
<line x1="106" x2="106" y1="251.36" y2="253.41" stroke="#3a3a3a" stroke-width="1"/>
<text x="106" y="260.36" text-anchor="middle" fill="#555555" stroke="#555555" font-size="6.6">2018</text>
<line x1="128" x2="128" y1="251.36" y2="253.41" stroke="#3a3a3a" stroke-width="1"/>
<text x="128" y="260.36" text-anchor="middle" fill="#555555" stroke="#555555" font-size="6.6">2019</text>
<rect x="153.45" y="206.71" width="96.85" height="44.65" fill="#fff"/>
<line x1="153.45" x2="250.3" y1="249.55" y2="249.55" stroke="#ebebeb" stroke-width="0.75"/>
<line x1="153.45" x2="250.3" y1="238.74" y2="238.74" stroke="#ebebeb" stroke-width="0.75"/>
<line x1="153.45" x2="250.3" y1="227.93" y2="227.93" stroke="#ebebeb" stroke-width="0.75"/>
<line x1="153.45" x2="250.3" y1="217.13" y2="217.13" stroke="#ebebeb" stroke-width="0.75"/>
<path d="M158 244.49 L180 249.11 L202 248.55 L224 247.04 L246 248.55" fill="none" stroke="#4d7fd0" stroke-width="0.85" stroke-linejoin="round"/>
<path d="M158 208.74 L180 220.67 L202 230.53 L224 228.15 L246 234.29" fill="none" stroke="#ea7424" stroke-width="0.85" stroke-linejoin="round"/>
<path d="M180 245.09 L202 249.33 L224 248.55 L246 248.55" fill="none" stroke="#c9cf00" stroke-width="0.85" stroke-linejoin="round"/>
<circle cx="158" cy="244.49" r="1.6" fill="#4d7fd0"/>
<circle cx="180" cy="249.11" r="1.6" fill="#4d7fd0"/>
<circle cx="202" cy="248.55" r="1.6" fill="#4d7fd0"/>
<circle cx="224" cy="247.04" r="1.6" fill="#4d7fd0"/>
<circle cx="246" cy="248.55" r="1.6" fill="#4d7fd0"/>
<circle cx="158" cy="208.74" r="1.6" fill="#ea7424"/>
<circle cx="180" cy="220.67" r="1.6" fill="#ea7424"/>
<circle cx="202" cy="230.53" r="1.6" fill="#ea7424"/>
<circle cx="224" cy="228.15" r="1.6" fill="#ea7424"/>
<circle cx="246" cy="234.29" r="1.6" fill="#ea7424"/>
<circle cx="180" cy="245.09" r="1.6" fill="#c9cf00"/>
<circle cx="202" cy="249.33" r="1.6" fill="#c9cf00"/>
<circle cx="224" cy="248.55" r="1.6" fill="#c9cf00"/>
<circle cx="246" cy="248.55" r="1.6" fill="#c9cf00"/>
<rect x="153.45" y="206.71" width="96.85" height="44.65" fill="none" stroke="#999999" stroke-width="1"/>
<rect x="153.45" y="194.26" width="96.85" height="12.45" fill="#d9d9d9" stroke="#a3a3a3" stroke-width="0.9"/>
<line x1="153.45" x2="250.3" y1="206.71" y2="206.71" stroke="#8a8a8a" stroke-width="1.4"/>
<text x="201.88" y="203.43" text-anchor="middle" fill="#2e2e2e" stroke="#2e2e2e" style="stroke-width:0.15px" font-size="6.6">Tetracyclines</text>
<line x1="151.4" x2="153.45" y1="249.55" y2="249.55" stroke="#3a3a3a" stroke-width="1"/>
<text x="149.85" y="252.45" text-anchor="end" fill="#555555" stroke="#555555" font-size="6.6">0</text>
<line x1="151.4" x2="153.45" y1="238.74" y2="238.74" stroke="#3a3a3a" stroke-width="1"/>
<text x="149.85" y="241.64" text-anchor="end" fill="#555555" stroke="#555555" font-size="6.6">25</text>
<line x1="151.4" x2="153.45" y1="227.93" y2="227.93" stroke="#3a3a3a" stroke-width="1"/>
<text x="149.85" y="230.83" text-anchor="end" fill="#555555" stroke="#555555" font-size="6.6">50</text>
<line x1="151.4" x2="153.45" y1="217.13" y2="217.13" stroke="#3a3a3a" stroke-width="1"/>
<text x="149.85" y="220.03" text-anchor="end" fill="#555555" stroke="#555555" font-size="6.6">75</text>
<line x1="158" x2="158" y1="251.36" y2="253.41" stroke="#3a3a3a" stroke-width="1"/>
<text x="158" y="260.36" text-anchor="middle" fill="#555555" stroke="#555555" font-size="6.6">2015</text>
<line x1="180" x2="180" y1="251.36" y2="253.41" stroke="#3a3a3a" stroke-width="1"/>
<text x="180" y="260.36" text-anchor="middle" fill="#555555" stroke="#555555" font-size="6.6">2016</text>
<line x1="202" x2="202" y1="251.36" y2="253.41" stroke="#3a3a3a" stroke-width="1"/>
<text x="202" y="260.36" text-anchor="middle" fill="#555555" stroke="#555555" font-size="6.6">2017</text>
<line x1="224" x2="224" y1="251.36" y2="253.41" stroke="#3a3a3a" stroke-width="1"/>
<text x="224" y="260.36" text-anchor="middle" fill="#555555" stroke="#555555" font-size="6.6">2018</text>
<line x1="246" x2="246" y1="251.36" y2="253.41" stroke="#3a3a3a" stroke-width="1"/>
<text x="246" y="260.36" text-anchor="middle" fill="#555555" stroke="#555555" font-size="6.6">2019</text>
<rect x="271.4" y="206.71" width="96.4" height="44.65" fill="#fff"/>
<line x1="271.4" x2="367.8" y1="250.66" y2="250.66" stroke="#ebebeb" stroke-width="0.75"/>
<line x1="271.4" x2="367.8" y1="239.57" y2="239.57" stroke="#ebebeb" stroke-width="0.75"/>
<line x1="271.4" x2="367.8" y1="228.48" y2="228.48" stroke="#ebebeb" stroke-width="0.75"/>
<line x1="271.4" x2="367.8" y1="217.39" y2="217.39" stroke="#ebebeb" stroke-width="0.75"/>
<path d="M275.6 238.24 L297.55 249.33 L319.5 244.89 L341.45 247.33 L363.4 244.01" fill="none" stroke="#4d7fd0" stroke-width="0.85" stroke-linejoin="round"/>
<path d="M275.6 237.35 L297.55 233.58 L319.5 245.34 L341.45 246 L363.4 247.25" fill="none" stroke="#ea7424" stroke-width="0.85" stroke-linejoin="round"/>
<path d="M297.55 243.56 L319.5 208.74 L341.45 241.79 L363.4 238.68" fill="none" stroke="#c9cf00" stroke-width="0.85" stroke-linejoin="round"/>
<circle cx="275.6" cy="238.24" r="1.6" fill="#4d7fd0"/>
<circle cx="297.55" cy="249.33" r="1.6" fill="#4d7fd0"/>
<circle cx="319.5" cy="244.89" r="1.6" fill="#4d7fd0"/>
<circle cx="341.45" cy="247.33" r="1.6" fill="#4d7fd0"/>
<circle cx="363.4" cy="244.01" r="1.6" fill="#4d7fd0"/>
<circle cx="275.6" cy="237.35" r="1.6" fill="#ea7424"/>
<circle cx="297.55" cy="233.58" r="1.6" fill="#ea7424"/>
<circle cx="319.5" cy="245.34" r="1.6" fill="#ea7424"/>
<circle cx="341.45" cy="246" r="1.6" fill="#ea7424"/>
<circle cx="363.4" cy="247.25" r="1.6" fill="#ea7424"/>
<circle cx="297.55" cy="243.56" r="1.6" fill="#c9cf00"/>
<circle cx="319.5" cy="208.74" r="1.6" fill="#c9cf00"/>
<circle cx="341.45" cy="241.79" r="1.6" fill="#c9cf00"/>
<circle cx="363.4" cy="238.68" r="1.6" fill="#c9cf00"/>
<rect x="271.4" y="206.71" width="96.4" height="44.65" fill="none" stroke="#999999" stroke-width="1"/>
<rect x="271.4" y="194.26" width="96.4" height="12.45" fill="#d9d9d9" stroke="#a3a3a3" stroke-width="0.9"/>
<line x1="271.4" x2="367.8" y1="206.71" y2="206.71" stroke="#8a8a8a" stroke-width="1.4"/>
<text x="319.6" y="203.43" text-anchor="middle" fill="#2e2e2e" stroke="#2e2e2e" style="stroke-width:0.15px" font-size="6.6">Flavophospholipids</text>
<line x1="269.35" x2="271.4" y1="250.66" y2="250.66" stroke="#3a3a3a" stroke-width="1"/>
<text x="267.8" y="253.56" text-anchor="end" fill="#555555" stroke="#555555" font-size="6.6">0.00</text>
<line x1="269.35" x2="271.4" y1="239.57" y2="239.57" stroke="#3a3a3a" stroke-width="1"/>
<text x="267.8" y="242.47" text-anchor="end" fill="#555555" stroke="#555555" font-size="6.6">0.25</text>
<line x1="269.35" x2="271.4" y1="228.48" y2="228.48" stroke="#3a3a3a" stroke-width="1"/>
<text x="267.8" y="231.38" text-anchor="end" fill="#555555" stroke="#555555" font-size="6.6">0.50</text>
<line x1="269.35" x2="271.4" y1="217.39" y2="217.39" stroke="#3a3a3a" stroke-width="1"/>
<text x="267.8" y="220.29" text-anchor="end" fill="#555555" stroke="#555555" font-size="6.6">0.75</text>
<line x1="275.6" x2="275.6" y1="251.36" y2="253.41" stroke="#3a3a3a" stroke-width="1"/>
<text x="275.6" y="260.36" text-anchor="middle" fill="#555555" stroke="#555555" font-size="6.6">2015</text>
<line x1="297.55" x2="297.55" y1="251.36" y2="253.41" stroke="#3a3a3a" stroke-width="1"/>
<text x="297.55" y="260.36" text-anchor="middle" fill="#555555" stroke="#555555" font-size="6.6">2016</text>
<line x1="319.5" x2="319.5" y1="251.36" y2="253.41" stroke="#3a3a3a" stroke-width="1"/>
<text x="319.5" y="260.36" text-anchor="middle" fill="#555555" stroke="#555555" font-size="6.6">2017</text>
<line x1="341.45" x2="341.45" y1="251.36" y2="253.41" stroke="#3a3a3a" stroke-width="1"/>
<text x="341.45" y="260.36" text-anchor="middle" fill="#555555" stroke="#555555" font-size="6.6">2018</text>
<line x1="363.4" x2="363.4" y1="251.36" y2="253.41" stroke="#3a3a3a" stroke-width="1"/>
<text x="363.4" y="260.36" text-anchor="middle" fill="#555555" stroke="#555555" font-size="6.6">2019</text>
<rect x="387.4" y="206.71" width="96.9" height="44.65" fill="#fff"/>
<line x1="387.4" x2="484.3" y1="249.33" y2="249.33" stroke="#ebebeb" stroke-width="0.75"/>
<line x1="387.4" x2="484.3" y1="238.7" y2="238.7" stroke="#ebebeb" stroke-width="0.75"/>
<line x1="387.4" x2="484.3" y1="228.06" y2="228.06" stroke="#ebebeb" stroke-width="0.75"/>
<line x1="387.4" x2="484.3" y1="217.42" y2="217.42" stroke="#ebebeb" stroke-width="0.75"/>
<path d="M391.7 218.13 L413.75 208.74 L435.8 222.39 L457.85 228.95 L479.9 223.1" fill="none" stroke="#4d7fd0" stroke-width="0.85" stroke-linejoin="round"/>
<path d="M413.75 249.33 L435.8 249.33 L457.85 246.74 L479.9 244.72" fill="none" stroke="#c9cf00" stroke-width="0.85" stroke-linejoin="round"/>
<circle cx="391.7" cy="218.13" r="1.6" fill="#4d7fd0"/>
<circle cx="413.75" cy="208.74" r="1.6" fill="#4d7fd0"/>
<circle cx="435.8" cy="222.39" r="1.6" fill="#4d7fd0"/>
<circle cx="457.85" cy="228.95" r="1.6" fill="#4d7fd0"/>
<circle cx="479.9" cy="223.1" r="1.6" fill="#4d7fd0"/>
<circle cx="413.75" cy="249.33" r="1.6" fill="#c9cf00"/>
<circle cx="435.8" cy="249.33" r="1.6" fill="#c9cf00"/>
<circle cx="457.85" cy="246.74" r="1.6" fill="#c9cf00"/>
<circle cx="479.9" cy="244.72" r="1.6" fill="#c9cf00"/>
<rect x="387.4" y="206.71" width="96.9" height="44.65" fill="none" stroke="#999999" stroke-width="1"/>
<rect x="387.4" y="194.26" width="96.9" height="12.45" fill="#d9d9d9" stroke="#a3a3a3" stroke-width="0.9"/>
<line x1="387.4" x2="484.3" y1="206.71" y2="206.71" stroke="#8a8a8a" stroke-width="1.4"/>
<text x="435.85" y="203.43" text-anchor="middle" fill="#2e2e2e" stroke="#2e2e2e" style="stroke-width:0.15px" font-size="6.6">Orthosomycins</text>
<line x1="385.35" x2="387.4" y1="249.33" y2="249.33" stroke="#3a3a3a" stroke-width="1"/>
<text x="383.8" y="252.23" text-anchor="end" fill="#555555" stroke="#555555" font-size="6.6">0</text>
<line x1="385.35" x2="387.4" y1="238.7" y2="238.7" stroke="#3a3a3a" stroke-width="1"/>
<text x="383.8" y="241.6" text-anchor="end" fill="#555555" stroke="#555555" font-size="6.6">3</text>
<line x1="385.35" x2="387.4" y1="228.06" y2="228.06" stroke="#3a3a3a" stroke-width="1"/>
<text x="383.8" y="230.96" text-anchor="end" fill="#555555" stroke="#555555" font-size="6.6">6</text>
<line x1="385.35" x2="387.4" y1="217.42" y2="217.42" stroke="#3a3a3a" stroke-width="1"/>
<text x="383.8" y="220.32" text-anchor="end" fill="#555555" stroke="#555555" font-size="6.6">9</text>
<line x1="391.7" x2="391.7" y1="251.36" y2="253.41" stroke="#3a3a3a" stroke-width="1"/>
<text x="391.7" y="260.36" text-anchor="middle" fill="#555555" stroke="#555555" font-size="6.6">2015</text>
<line x1="413.75" x2="413.75" y1="251.36" y2="253.41" stroke="#3a3a3a" stroke-width="1"/>
<text x="413.75" y="260.36" text-anchor="middle" fill="#555555" stroke="#555555" font-size="6.6">2016</text>
<line x1="435.8" x2="435.8" y1="251.36" y2="253.41" stroke="#3a3a3a" stroke-width="1"/>
<text x="435.8" y="260.36" text-anchor="middle" fill="#555555" stroke="#555555" font-size="6.6">2017</text>
<line x1="457.85" x2="457.85" y1="251.36" y2="253.41" stroke="#3a3a3a" stroke-width="1"/>
<text x="457.85" y="260.36" text-anchor="middle" fill="#555555" stroke="#555555" font-size="6.6">2018</text>
<line x1="479.9" x2="479.9" y1="251.36" y2="253.41" stroke="#3a3a3a" stroke-width="1"/>
<text x="479.9" y="260.36" text-anchor="middle" fill="#555555" stroke="#555555" font-size="6.6">2019</text>
<line x1="497.6" x2="508.3" y1="129.95" y2="129.95" stroke="#4d7fd0" stroke-width="0.85"/>
<circle cx="502.95" cy="129.95" r="1.6" fill="#4d7fd0"/>
<text x="513.6" y="132.85" fill="#333" stroke="#333" style="stroke-width:0.12px" font-size="6.6">Broilers</text>
<line x1="497.6" x2="508.3" y1="142.75" y2="142.75" stroke="#c9cf00" stroke-width="0.85"/>
<circle cx="502.95" cy="142.75" r="1.6" fill="#c9cf00"/>
<text x="513.6" y="145.65" fill="#333" stroke="#333" style="stroke-width:0.12px" font-size="6.6">Turkeys</text>
<line x1="497.6" x2="508.3" y1="155.55" y2="155.55" stroke="#ea7424" stroke-width="0.85"/>
<circle cx="502.95" cy="155.55" r="1.6" fill="#ea7424"/>
<text x="513.6" y="158.45" fill="#333" stroke="#333" style="stroke-width:0.12px" font-size="6.6">Pigs</text>
<text transform="translate(14.8 136.75) rotate(-90)" text-anchor="middle" fill="#1a1a1a" stroke="#1a1a1a" style="stroke-width:0.12px" font-size="8.35">Mean mg/PCU</text>
</g>
</svg></div>
</body></html>
